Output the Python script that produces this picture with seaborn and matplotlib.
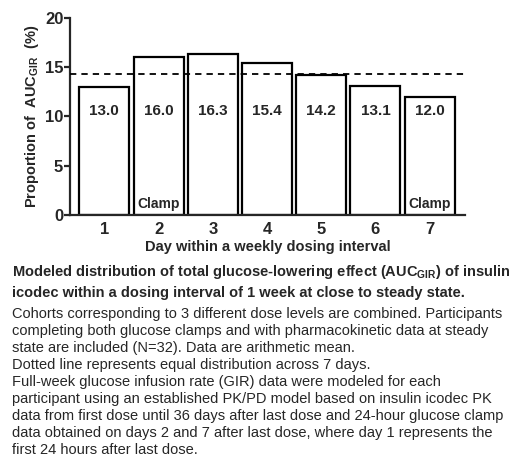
import matplotlib
matplotlib.use("Agg")
import matplotlib.pyplot as plt
import seaborn as sns

# data
days = ["1", "2", "3", "4", "5", "6", "7"]
proportion = [13.0, 16.0, 16.3, 15.4, 14.2, 13.1, 12.0]
clamp_days = ["2", "7"]
equal_share = 100 / 7

caption_bold = [
    r"Modeled distribution of total glucose-lowering effect (AUC$_{\mathbf{GIR}}$) of insulin",
    "icodec within a dosing interval of 1 week at close to steady state.",
]
caption_text = [
    "Cohorts corresponding to 3 different dose levels are combined. Participants",
    "completing both glucose clamps and with pharmacokinetic data at steady",
    "state are included (N=32). Data are arithmetic mean.",
    "Dotted line represents equal distribution across 7 days.",
    "Full-week glucose infusion rate (GIR) data were modeled for each",
    "participant using an established PK/PD model based on insulin icodec PK",
    "data from first dose until 36 days after last dose and 24-hour glucose clamp",
    "data obtained on days 2 and 7 after last dose, where day 1 represents the",
    "first 24 hours after last dose.",
]

sns.set_style("ticks")
plt.rcParams["font.family"] = ["Liberation Sans", "DejaVu Sans"]
plt.rcParams["mathtext.fontset"] = "custom"
plt.rcParams["mathtext.rm"] = "Liberation Sans"
plt.rcParams["mathtext.bf"] = "Liberation Sans:bold"

fig = plt.figure(figsize=(5.2, 4.61), dpi=100)
ax = fig.add_axes([0.135, 0.534, 0.759, 0.427])

sns.barplot(x=days, y=proportion, color="white", edgecolor="black",
            linewidth=1.6, width=0.92, saturation=1, ax=ax)

ax.axhline(equal_share, color="black", linestyle=(0, (3.5, 2.8)), linewidth=1.3, zorder=5)

for i, v in enumerate(proportion):
    ax.text(i, 10.5, f"{v:.1f}", ha="center", va="center", fontsize=11, fontweight="bold")
    if days[i] in clamp_days:
        ax.text(i, 1.1, "Clamp", ha="center", va="center", fontsize=10, fontweight="bold")

ax.set_xlim(-0.63, 6.65)
ax.set_ylim(0, 20)
ax.set_yticks([0, 5, 10, 15, 20])
ax.set_xlabel("Day within a weekly dosing interval", fontsize=10.5, fontweight="bold", labelpad=2)
ax.set_ylabel(r"Proportion of  AUC$_{\mathbf{GIR}}$  (%)", fontsize=10.5, fontweight="bold", labelpad=3)
for lab in ax.get_xticklabels() + ax.get_yticklabels():
    lab.set_fontweight("bold")
    lab.set_fontsize(12)
ax.tick_params(axis="y", width=1.6, length=4, pad=1)
ax.tick_params(axis="x", length=0, pad=5)
for s in ["left", "bottom"]:
    ax.spines[s].set_linewidth(1.6)
sns.despine(ax=ax)

y = 1 - 272 / 461
for line in caption_bold:
    fig.text(0.023, y, line, fontsize=10.5, fontweight="bold", va="center")
    y -= 21 / 461
y = 1 - 314 / 461
for line in caption_text:
    fig.text(0.023, y, line, fontsize=10.5, va="center")
    y -= 17 / 461

fig.savefig("out.png", dpi=100)
